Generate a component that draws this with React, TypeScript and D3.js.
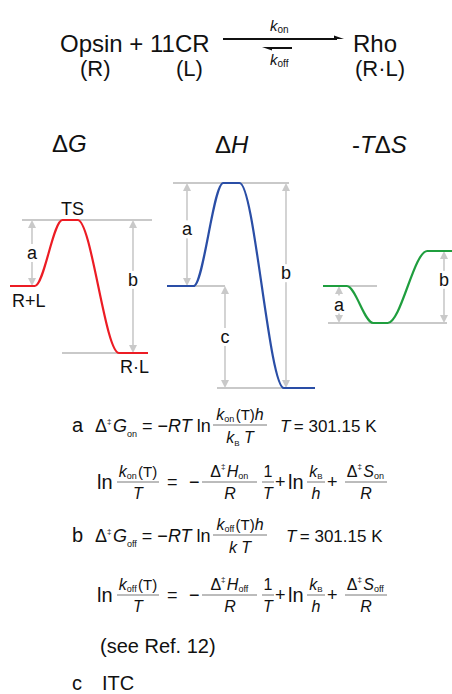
import React from "react";
import * as d3 from "d3";

// ---------- data ----------
const stages = ["R+L", "TS", "R·L"];
const dG = [0, 66, -67];
const dH = [0, 103, -102];
const mTdS = [0, -37, 35];
// reaction coordinate keypoints: start, rise start, top start, top end, fall end, end
const reactionCoord = [0, 0.18, 0.38, 0.49, 0.79, 1];
const stageOfKeypoint = [0, 0, 1, 1, 2, 2];
const temperatureLabel = "301.15 K";

const FONT = "'Liberation Sans', Arial, Helvetica, sans-serif";
const GRAY = "#c9c9c9";

const yE = d3.scaleLinear().domain([0, 100]).range([286, 186]);

type Panel = {
  values: number[];
  color: string;
  range: [number, number];
  refLines: { stage: number; x1: number; x2: number }[];
  arrows: { from: number; to: number; x: number; label: string; ly: number }[];
};

const panels: Panel[] = [
  {
    values: dG,
    color: "#ec1c24",
    range: [10, 148],
    refLines: [
      { stage: 1, x1: 22, x2: 152 },
      { stage: 2, x1: 62, x2: 148 },
    ],
    arrows: [
      { from: 0, to: 1, x: 32, label: "a", ly: 0.5 },
      { from: 1, to: 2, x: 133, label: "b", ly: 0.45 },
    ],
  },
  {
    values: dH,
    color: "#2a4ea6",
    range: [167, 315],
    refLines: [
      { stage: 1, x1: 173, x2: 289 },
      { stage: 0, x1: 193, x2: 225 },
      { stage: 2, x1: 217, x2: 290 },
    ],
    arrows: [
      { from: 0, to: 1, x: 187, label: "a", ly: 0.45 },
      { from: 0, to: 2, x: 225, label: "c", ly: 0.5 },
      { from: 1, to: 2, x: 286, label: "b", ly: 0.44 },
    ],
  },
  {
    values: mTdS,
    color: "#1f9e3e",
    range: [323, 455],
    refLines: [
      { stage: 0, x1: 323, x2: 377 },
      { stage: 1, x1: 328, x2: 447 },
    ],
    arrows: [
      { from: 0, to: 1, x: 339, label: "a", ly: 0.5 },
      { from: 1, to: 2, x: 444, label: "b", ly: 0.4 },
    ],
  },
];

function DArrow({ x, y1, y2, label, ly }: { x: number; y1: number; y2: number; label: string; ly: number }) {
  const top = Math.min(y1, y2);
  const bot = Math.max(y1, y2);
  const hl = 8;
  const hw = 4;
  const ymid = top + (bot - top) * ly;
  return (
    <g>
      <line x1={x} x2={x} y1={top + hl - 1} y2={bot - hl + 1} stroke={GRAY} strokeWidth={1.6} />
      <polygon points={`${x},${top} ${x - hw},${top + hl} ${x + hw},${top + hl}`} fill={GRAY} />
      <polygon points={`${x},${bot} ${x - hw},${bot - hl} ${x + hw},${bot - hl}`} fill={GRAY} />
      <rect x={x - 6} y={ymid - 9} width={12} height={18} fill="#fff" />
      <text x={x} y={ymid + 6} textAnchor="middle" fontSize={18} fontFamily={FONT} fill="#111">
        {label}
      </text>
    </g>
  );
}

function ProfilePanel({ p }: { p: Panel }) {
  const x = d3.scaleLinear().domain([0, 1]).range(p.range);
  const pts: [number, number][] = reactionCoord.map((r, i) => [x(r), yE(p.values[stageOfKeypoint[i]])]);
  const line = d3.line().curve(d3.curveMonotoneX)(pts) || "";
  return (
    <g>
      {p.refLines.map((l, i) => (
        <line key={i} x1={l.x1} x2={l.x2} y1={yE(p.values[l.stage])} y2={yE(p.values[l.stage])} stroke={GRAY} strokeWidth={2} />
      ))}
      {p.arrows.map((a, i) => (
        <DArrow key={i} x={a.x} y1={yE(p.values[a.from])} y2={yE(p.values[a.to])} label={a.label} ly={a.ly} />
      ))}
      <path d={line} fill="none" stroke={p.color} strokeWidth={2.2} />
    </g>
  );
}

const I = ({ children, s }: { children: any; s?: number }) => (
  <tspan fontStyle="italic" fontSize={s}>
    {children}
  </tspan>
);

function Frac({ cx, yNum, yBar, yDen, x1, x2, num, den }: any) {
  return (
    <g>
      <text x={cx} y={yNum} textAnchor="middle" fontSize={16}>
        {num}
      </text>
      <line x1={x1} x2={x2} y1={yBar} y2={yBar} stroke="#555" strokeWidth={0.8} />
      <text x={cx} y={yDen} textAnchor="middle" fontSize={16}>
        {den}
      </text>
    </g>
  );
}

const Sub = ({ t, s = 8 }: { t: string; s?: number }) => (
  <>
    <tspan fontSize={s} dy={2}>
      {t}
    </tspan>
    <tspan dy={-2}>{"\u200a"}</tspan>
  </>
);

const DeltaDag = () => (
  <>
    <tspan>Δ</tspan>
    <tspan fontSize={8} dy={-8}>
      ‡
    </tspan>
    <tspan dy={8}>{"\u200a"}</tspan>
  </>
);

function EqLine1({ y, letter, sub, kBsub, tx }: { y: number; letter: string; sub: string; kBsub: boolean; tx: number }) {
  return (
    <g>
      <text x={72} y={y} fontSize={20}>
        {letter}
      </text>
      <text x={95} y={y} fontSize={18}>
        <DeltaDag />
        <I>G</I>
        <tspan fontSize={9} dy={5}>
          {sub}
        </tspan>
        <tspan dy={-5}> = −</tspan>
        <I>RT</I>
        <tspan> ln</tspan>
      </text>
      <Frac
        cx={240}
        yNum={y - 12}
        yBar={y - 7}
        yDen={y + 11}
        x1={213}
        x2={267}
        num={
          <>
            <I>k</I>
            <Sub t={sub} s={9} />
            <tspan fontSize={15}>(T)</tspan>
            <I>h</I>
          </>
        }
        den={
          kBsub ? (
            <>
              <I>k</I>
              <tspan fontSize={8} dy={3}>
                B
              </tspan>
              <tspan dy={-3}> </tspan>
              <I>T</I>
            </>
          ) : (
            <>
              <I>k</I>
              <tspan>{"  "}</tspan>
              <I>T</I>
            </>
          )
        }
      />
      <text x={tx} y={y} fontSize={17}>
        <I>T</I>
        <tspan>{"\u2009"}= {temperatureLabel}</tspan>
      </text>
    </g>
  );
}

function EqLine2({ y, sub }: { y: number; sub: string }) {
  const yNum = y - 12;
  const yBar = y - 7;
  const yDen = y + 10;
  return (
    <g>
      <text x={97} y={y} fontSize={20}>
        ln
      </text>
      <Frac
        cx={138}
        yNum={yNum}
        yBar={yBar}
        yDen={yDen}
        x1={117}
        x2={159}
        num={
          <>
            <I>k</I>
            <Sub t={sub} s={9} />
            <tspan fontSize={15}>(T)</tspan>
          </>
        }
        den={<I>T</I>}
      />
      <text x={167} y={y - 1} fontSize={18}>
        =
      </text>
      <text x={189} y={y - 1} fontSize={18}>
        −
      </text>
      <Frac
        cx={230}
        yNum={yNum}
        yBar={yBar}
        yDen={yDen}
        x1={202}
        x2={257}
        num={
          <>
            <DeltaDag />
            <I>H</I>
            <Sub t={sub} s={9} />
          </>
        }
        den={<I>R</I>}
      />
      <Frac cx={268} yNum={yNum} yBar={yBar} yDen={yDen} x1={262} x2={274} num={<tspan>1</tspan>} den={<I>T</I>} />
      <text x={275} y={y - 1} fontSize={18}>
        +
      </text>
      <text x={288} y={y} fontSize={20}>
        ln
      </text>
      <Frac
        cx={316}
        yNum={yNum}
        yBar={yBar}
        yDen={yDen}
        x1={307}
        x2={325}
        num={
          <>
            <I>k</I>
            <tspan fontSize={8} dy={2}>
              B
            </tspan>
          </>
        }
        den={<I>h</I>}
      />
      <text x={327} y={y - 1} fontSize={18}>
        +
      </text>
      <Frac
        cx={366}
        yNum={yNum}
        yBar={yBar}
        yDen={yDen}
        x1={345}
        x2={387}
        num={
          <>
            <DeltaDag />
            <I>S</I>
            <Sub t={sub} s={9} />
          </>
        }
        den={<I>R</I>}
      />
    </g>
  );
}

export default function App() {
  return (
    <svg
      width={452}
      height={694}
      viewBox="0 0 452 694"
      style={{ position: "absolute", left: 0, top: 0, background: "#fff" }}
      fontFamily={FONT}
      fill="#111"
    >
      <rect width={452} height={694} fill="#fff" />
      {/* reaction scheme */}
      <text x={60} y={52} fontSize={24}>
        Opsin + 11CR
      </text>
      <text x={80} y={76} fontSize={22}>
        (R)
      </text>
      <text x={176} y={76} fontSize={22}>
        (L)
      </text>
      <text x={353} y={52} fontSize={24}>
        Rho
      </text>
      <text x={355} y={76} fontSize={22}>
        (R·L)
      </text>
      <line x1={223} x2={337} y1={39} y2={39} stroke="#111" strokeWidth={2} />
      <polygon points="344,39 334,35.5 334,39" fill="#111" />
      <line x1={270} x2={292} y1={48} y2={48} stroke="#111" strokeWidth={2} />
      <polygon points="262,47 272,50.5 272,47" fill="#111" />
      <text x={270} y={31} fontSize={15}>
        <I>k</I>
        <tspan fontSize={10} dy={2}>
          on
        </tspan>
      </text>
      <text x={270} y={65} fontSize={15}>
        <I>k</I>
        <tspan fontSize={10} dy={2}>
          off
        </tspan>
      </text>

      {/* panel titles */}
      <text x={52} y={152} fontSize={24}>
        Δ<I>G</I>
      </text>
      <text x={215} y={153} fontSize={24}>
        Δ<I>H</I>
      </text>
      <text x={352} y={153} fontSize={24}>
        -<I>T</I>Δ<I>S</I>
      </text>

      {panels.map((p, i) => (
        <ProfilePanel key={i} p={p} />
      ))}

      {/* stage labels */}
      <text x={61} y={215} fontSize={18}>
        {stages[1]}
      </text>
      <text x={12} y={307} fontSize={18}>
        {stages[0]}
      </text>
      <text x={120} y={373} fontSize={18}>
        {stages[2]}
      </text>

      {/* equations */}
      <EqLine1 y={432} letter="a" sub="on" kBsub={true} tx={280} />
      <EqLine2 y={489} sub="on" />
      <EqLine1 y={542} letter="b" sub="off" kBsub={false} tx={286} />
      <EqLine2 y={602} sub="off" />
      <text x={100} y={653} fontSize={20}>
        (see Ref. 12)
      </text>
      <text x={72} y={690} fontSize={20}>
        c
      </text>
      <text x={102} y={690} fontSize={20}>
        ITC
      </text>
    </svg>
  );
}
